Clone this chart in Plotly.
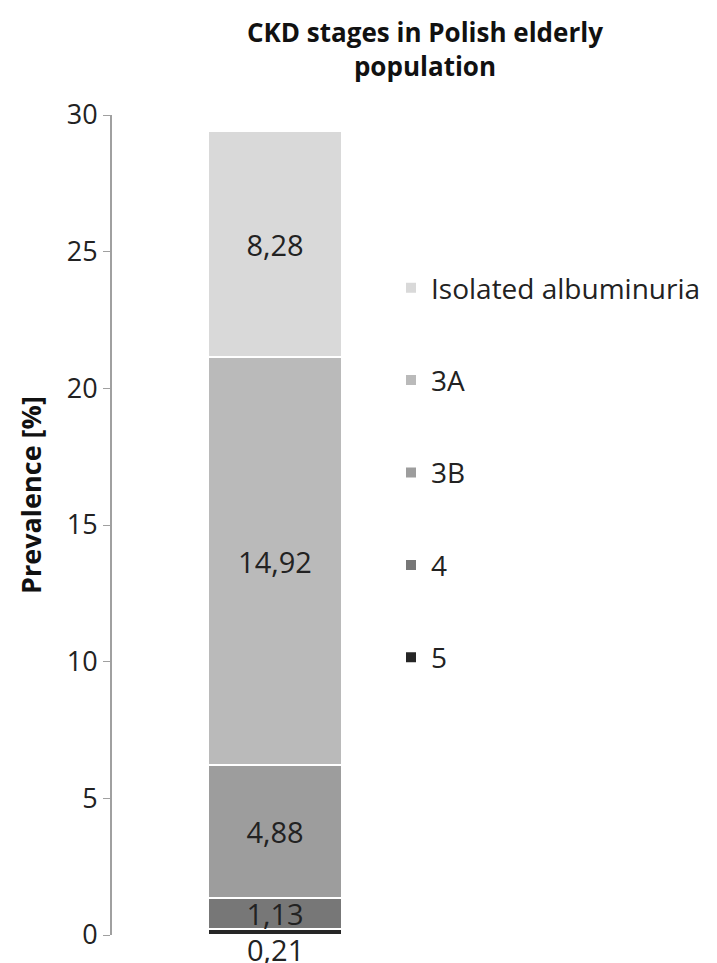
import plotly.graph_objects as go

categories = ["CKD"]
series_names = ["5", "4", "3B", "3A", "Isolated albuminuria"]
series_values = [0.21, 1.13, 4.88, 14.92, 8.28]
series_labels = ["0,21", "1,13", "4,88", "14,92", "8,28"]
series_colors = ["#262626", "#777777", "#9d9d9d", "#bababa", "#d9d9d9"]
legend_ranks = [5, 4, 3, 2, 1]
y_ticks = [0, 5, 10, 15, 20, 25, 30]

OFF = 8  # page body margin
W, H = 717 - OFF, 963 - OFF
L, R, T, B = 112 - OFF, 279, 115 - OFF, 28
pw = W - L - R
ph = H - T - B
FONT = "Open Sans"

def px_x(xp):
    return (xp - OFF - L) / pw

def px_y(yp):
    return 1 - (yp - OFF - T) / ph

fig = go.Figure()
for name, val, lab, col, rk in zip(series_names, series_values, series_labels, series_colors, legend_ranks):
    inside = val >= 1
    fig.add_trace(go.Bar(
        x=categories, y=[val], name=name,
        marker=dict(color=col, line=dict(color="white", width=2)),
        text=[lab] if inside else None,
        textposition="inside", insidetextanchor="middle", constraintext="none",
        textfont=dict(size=29, color="#222222", family=FONT),
        width=0.41, legendgroup=name, legendrank=rk,
    ))

fig.add_annotation(x=categories[0], y=0, text=series_labels[0], showarrow=False,
                   yanchor="middle", yshift=-14, font=dict(size=29, color="#222222", family=FONT))

fig.add_annotation(xref="paper", yref="paper", x=px_x(425), y=px_y(12), xanchor="center", yanchor="top",
                   text="<b>CKD stages in Polish elderly<br>population</b>", showarrow=False,
                   font=dict(size=26, color="#111111", family=FONT))

fig.add_annotation(xref="paper", yref="paper", x=px_x(30), y=px_y(495), xanchor="center", yanchor="middle",
                   text="<b>Prevalence [%]</b>", textangle=-90, showarrow=False,
                   font=dict(size=27, color="#111111", family=FONT))

fig.add_shape(type="rect", xref="paper", yref="paper",
              x0=px_x(0), x1=px_x(5), y0=px_y(55), y1=px_y(0),
              fillcolor="#e8141c", line=dict(width=0))

fig.update_layout(
    width=W, height=H, barmode="stack", plot_bgcolor="white", paper_bgcolor="white",
    margin=dict(l=L, r=R, t=T, b=B, autoexpand=False),
    font=dict(family=FONT, color="#222222"),
    showlegend=True,
    xaxis=dict(showticklabels=False, showline=False, showgrid=False, ticks="", range=[-0.5, 0.5]),
    yaxis=dict(range=[0, 30], tickvals=y_ticks, showgrid=False, zeroline=False,
               showline=True, linecolor="#a0a0a0", linewidth=2, ticks="outside", ticklen=7,
               tickcolor="#a0a0a0", tickfont=dict(size=27, color="#222222", family=FONT)),
    legend=dict(x=px_x(391), xanchor="left", y=px_y(263), yanchor="top",
                traceorder="grouped", tracegroupgap=53,
                font=dict(size=28, color="#222222", family=FONT), itemwidth=30),
)

fig.write_html("out.html")
